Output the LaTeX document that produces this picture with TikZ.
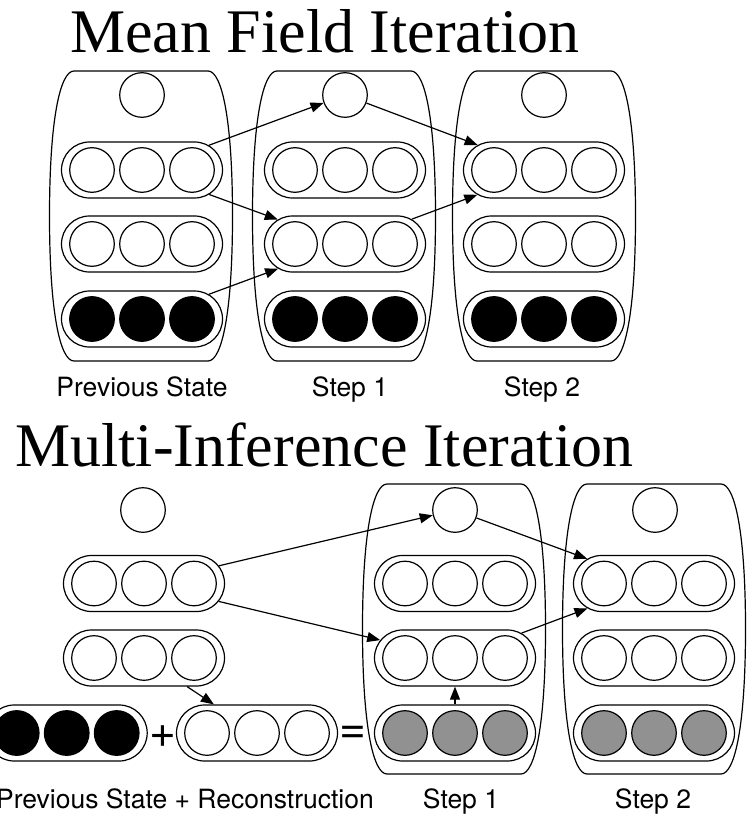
\documentclass[tikz,border=0pt]{standalone}
\usepackage{fontspec}
\setmainfont{Liberation Serif}
\newfontfamily\helv{TeX Gyre Heros}
\usetikzlibrary{shapes.misc,arrows.meta}
\definecolor{midgray}{RGB}{145,145,145}
\tikzset{
 unit/.style={circle,draw,line width=1.2pt,minimum size=44.6pt,inner sep=0pt,fill=white},
 blk/.style={unit,fill=black},
 gry/.style={unit,fill=midgray},
 pill/.style={rounded rectangle,draw,line width=1.2pt,minimum width=161pt,minimum height=56pt,inner sep=0pt},
 barrel/.style={draw,line width=1.2pt},
 conn/.style={line width=1.2pt,-{Triangle[length=13pt,width=10pt]}},
 lbl/.style={font=\helv\fontsize{26.5}{30}\selectfont,anchor=base,inner sep=0pt},
 ttl/.style={font=\fontsize{62}{70}\selectfont,anchor=base west,inner sep=0pt},
 op/.style={font=\helv\fontsize{46}{50}\selectfont,inner sep=0pt}
}
\newcommand\unitrow[4]{%
 \node[pill] (#1) at (#2,#3) {};
 \node[#4] (#1a) at ({#2-50},#3) {};
 \node[#4] (#1b) at (#2,#3) {};
 \node[#4] (#1c) at ({#2+50},#3) {};
}
\newcommand\barrelshape[2]{%
 \draw[barrel] ({#1-67},#2) -- ({#1+67},#2) .. controls ({#1+81},#2) and ({#1+91.5},{#2+49}) .. ({#1+91.5},{#2+145}) .. controls ({#1+91.5},{#2+241}) and ({#1+81},{#2+290}) .. ({#1+67},{#2+290}) -- ({#1-67},{#2+290}) .. controls ({#1-81},{#2+290}) and ({#1-91.5},{#2+241}) .. ({#1-91.5},{#2+145}) .. controls ({#1-91.5},{#2+49}) and ({#1-81},#2) .. ({#1-67},#2) -- cycle;
}
\begin{document}
\begin{tikzpicture}[x=1pt,y=-1pt]
\useasboundingbox (0,0) rectangle (746,818);
\clip (0,0) rectangle (746,818);
% ---------- Mean Field Iteration ----------
\node[ttl] (title1) at (70,52.3) {Mean Field Iteration};
\barrelshape{141}{71}
\barrelshape{344}{71}
\barrelshape{544}{71}
\node[unit] (t0top) at (142,95) {};
\node[unit] (t1top) at (345,95) {};
\node[unit] (t2top) at (544,95) {};
\unitrow{t0r1}{142}{170}{unit}
\unitrow{t0r2}{142}{244}{unit}
\unitrow{t0r3}{142}{319}{blk}
\unitrow{t1r1}{345}{170}{unit}
\unitrow{t1r2}{345}{244}{unit}
\unitrow{t1r3}{345}{319}{blk}
\unitrow{t2r1}{544}{170}{unit}
\unitrow{t2r2}{544}{244}{unit}
\unitrow{t2r3}{544}{319}{blk}
\draw[conn] (t0r1) -- (t1top);
\draw[conn] (t0r1) -- (t1r2);
\draw[conn] (t0r3) -- (t1r2);
\draw[conn] (t1top) -- (t2r1);
\draw[conn] (t1r2) -- (t2r1);
\node[lbl] (lprev) at (142,396.7) {Previous State};
\node[lbl] (lstep1) at (350,396.7) {Step 1};
\node[lbl] (lstep2) at (542,396.7) {Step 2};
% ---------- Multi-Inference Iteration ----------
\node[ttl] (title2) at (15,466.7) {Multi-Inference Iteration};
\barrelshape{454}{484}
\barrelshape{654}{484}
\node[unit] (b0top) at (143,510) {};
\node[unit] (b1top) at (455,510) {};
\node[unit] (b2top) at (655,510) {};
\unitrow{b0r1}{144}{583.5}{unit}
\unitrow{b0r2}{144}{658}{unit}
\unitrow{bblk}{66.7}{733}{blk}
\unitrow{brec}{257}{733}{unit}
\unitrow{b1r1}{455}{583.5}{unit}
\unitrow{b1r2}{455}{658}{unit}
\unitrow{b1r3}{455}{733}{gry}
\unitrow{b2r1}{654}{583.5}{unit}
\unitrow{b2r2}{654}{658}{unit}
\unitrow{b2r3}{654}{733}{gry}
\node[op] (plus) at (163,736.7) {+};
\node[op] (equals) at (353,734.5) {=};
\draw[conn] (b0r1) -- (b1top);
\draw[conn] (b0r1) -- (b1r2);
\draw[conn] (b0r2) -- (brec);
\draw[conn] (b1r3) -- (b1r2);
\draw[conn] (b1top) -- (b2r1);
\draw[conn] (b1r2) -- (b2r1);
\node[lbl,anchor=base east] (lprevrec) at (374,808) {Previous State + Reconstruction};
\node[lbl] (lbstep1) at (461,808) {Step 1};
\node[lbl] (lbstep2) at (653,808) {Step 2};
\end{tikzpicture}
\end{document}
